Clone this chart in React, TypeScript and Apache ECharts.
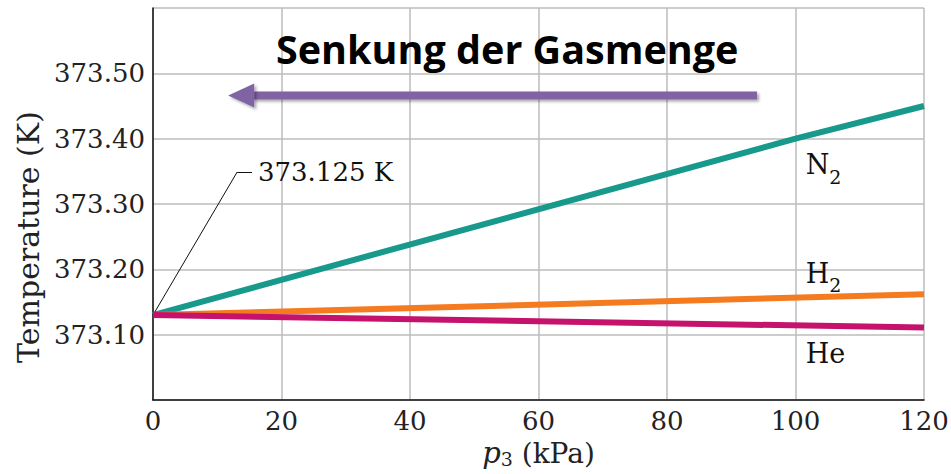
import React, { useEffect, useRef } from "react";
import * as echarts from "echarts";

const SERIF = "DejaVu Serif";

const xTicks = [0, 20, 40, 60, 80, 100, 120];
const n2Pressure = [0, 100, 120];
const n2Temp = [373.13, 373.4, 373.45];
const h2Pressure = [0, 120];
const h2Temp = [373.13, 373.162];
const hePressure = [0, 120];
const heTemp = [373.13, 373.111];

const gasNames = ["N2", "H2", "He"];
const gasColors = ["#17998b", "#f47b20", "#c5136d"];
const gasLabelPos = [
  [101.5, 373.35],
  [101.5, 373.184],
  [101.5, 373.071],
];

const annotationText = "373.125 K";
const annotationLeader = [
  [0, 373.13],
  [13.1, 373.349],
  [15.4, 373.349],
];
const arrowTail = [94, 373.466];
const arrowTip = [11.7, 373.466];
const titleText = "Senkung der Gasmenge";

function pairs(xs: number[], ys: number[]) {
  return xs.map((x, i) => [x, ys[i]]);
}

function gasLabel(name: string) {
  if (name.length === 2 && /\d/.test(name[1])) return `{a|${name[0]}}{b|${name[1]}}`;
  return `{c|${name}}`;
}

export default function App() {
  const ref = useRef<HTMLDivElement>(null);
  useEffect(() => {
    if (!ref.current) return;
    const chart = echarts.init(ref.current, undefined, { renderer: "svg" });
    const datasets = [
      pairs(n2Pressure, n2Temp),
      pairs(h2Pressure, h2Temp),
      pairs(hePressure, heTemp),
    ];
    const rich = {
      a: { fontFamily: SERIF, fontSize: 27, color: "#111", lineHeight: 30, padding: [0, 0, 8, 0], verticalAlign: "bottom" },
      b: { fontFamily: SERIF, fontSize: 19, color: "#111", lineHeight: 22, verticalAlign: "bottom" },
      c: { fontFamily: SERIF, fontSize: 27, color: "#111", lineHeight: 30 },
    };
    const series: any[] = datasets.map((d, i) => ({
      type: "line",
      name: gasNames[i],
      data: d,
      showSymbol: false,
      symbol: "none",
      lineStyle: { color: gasColors[i], width: 6 },
      z: 3 + i,
      markPoint: {
        silent: true,
        symbol: "circle",
        symbolSize: 1,
        itemStyle: { color: "transparent" },
        label: {
          show: true,
          position: "right",
          distance: 0,
          formatter: gasLabel(gasNames[i]),
          rich,
        },
        data: [{ coord: gasLabelPos[i] }],
      },
    }));
    series.push({
      type: "line",
      name: "annotation",
      data: [],
      markLine: {
        silent: true,
        symbol: ["none", "none"],
        lineStyle: { color: "#111", width: 1, type: "solid" },
        label: { show: false },
        data: [
          [{ coord: annotationLeader[0] }, { coord: annotationLeader[1] }],
          [
            {
              coord: annotationLeader[1],
              label: {
                show: true,
                position: "end",
                distance: 6,
                formatter: annotationText,
                fontFamily: SERIF,
                fontSize: 26,
                color: "#111",
              },
            },
            { coord: annotationLeader[2] },
          ],
        ],
      },
    });

    chart.setOption({
      animation: false,
      backgroundColor: "#ffffff",
      title: {
        text: titleText,
        left: 271,
        top: 24,
        textStyle: { fontFamily: "Open Sans", fontWeight: "bold", fontSize: 39.5, color: "#000" },
      },
      grid: { left: 153, right: 27, top: 8, bottom: 74, containLabel: false, outerBoundsMode: "none" },
      xAxis: {
        type: "value",
        min: xTicks[0],
        max: xTicks[xTicks.length - 1],
        interval: 20,
        name: "{i|p}{s|3} (kPa)",
        nameLocation: "middle",
        nameGap: 38,
        nameTextStyle: {
          fontFamily: SERIF,
          fontSize: 28,
          color: "#222",
          rich: {
            i: { fontFamily: SERIF, fontStyle: "italic", fontSize: 29, color: "#222" },
            s: { fontFamily: SERIF, fontSize: 19, color: "#222", padding: [11, 0, 0, 0] },
          },
        },
        axisLine: { show: true, lineStyle: { color: "#111", width: 1.5 } },
        axisTick: { show: false },
        axisLabel: { fontFamily: SERIF, fontSize: 26, color: "#222", margin: 8 },
        splitLine: { show: true, lineStyle: { color: "#bdbdbd", width: 1.5 } },
      },
      yAxis: {
        type: "value",
        min: 373.0,
        max: 373.6,
        interval: 0.1,
        name: "Temperature (K)",
        nameLocation: "middle",
        nameGap: 110,
        nameTextStyle: { fontFamily: SERIF, fontSize: 30, color: "#222", padding: [0, 66, 0, 0] },
        axisLine: { show: true, lineStyle: { color: "#111", width: 1.5 } },
        axisTick: { show: false },
        axisLabel: {
          fontFamily: SERIF,
          fontSize: 26,
          color: "#222",
          margin: 8,
          formatter: (v: number) =>
            Math.abs(v - 373.0) < 1e-6 || Math.abs(v - 373.6) < 1e-6 ? "" : v.toFixed(2),
        },
        splitLine: { show: true, lineStyle: { color: "#bdbdbd", width: 1.5 } },
      },
      series,
    });

    const tail = chart.convertToPixel({ gridIndex: 0 }, arrowTail) as number[];
    const tip = chart.convertToPixel({ gridIndex: 0 }, arrowTip) as number[];
    const headLen = 26;
    const headHalf = 12;
    const shaftHalf = 4;
    const shadow = { shadowColor: "rgba(0,0,0,0.35)", shadowBlur: 3, shadowOffsetX: 2, shadowOffsetY: 2 };
    chart.setOption({
      graphic: [
        {
          type: "group",
          z: 50,
          children: [
            {
              type: "rect",
              shape: { x: tip[0] + headLen - 2, y: tip[1] - shaftHalf, width: tail[0] - tip[0] - headLen + 2, height: shaftHalf * 2 },
              style: { fill: "#8064a2", ...shadow },
            },
            {
              type: "polygon",
              shape: {
                points: [
                  [tip[0], tip[1]],
                  [tip[0] + headLen, tip[1] - headHalf],
                  [tip[0] + headLen, tip[1] + headHalf],
                ],
              },
              style: { fill: "#8064a2", ...shadow },
            },
          ],
        },
      ],
    });
    return () => chart.dispose();
  }, []);
  return (
    <div
      ref={ref}
      style={{ position: "fixed", left: 0, top: 0, width: 951, height: 474, background: "#fff" }}
    />
  );
}
